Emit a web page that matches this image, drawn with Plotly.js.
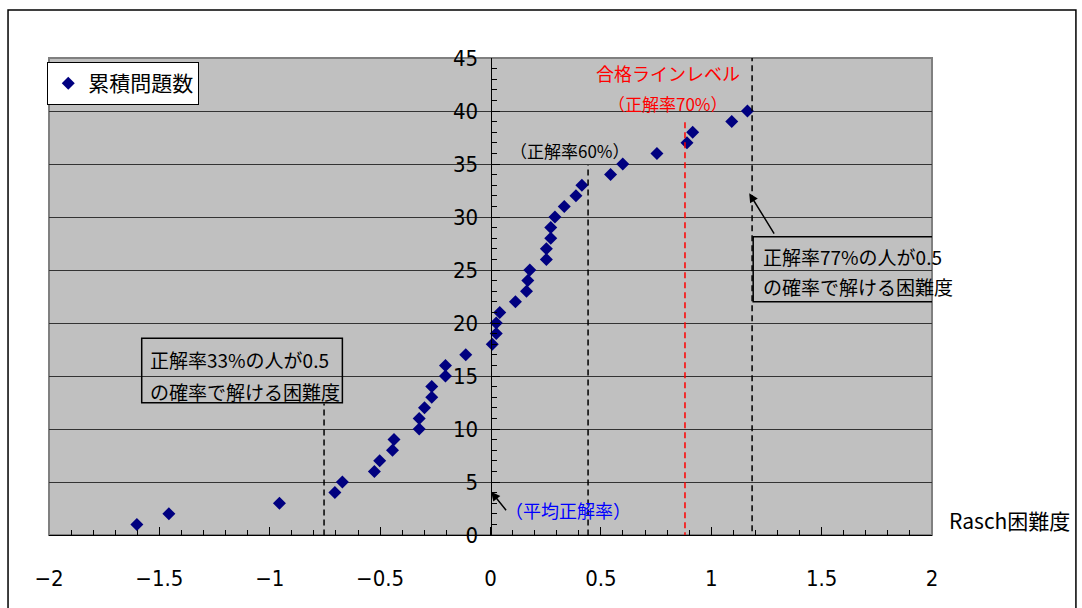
<!DOCTYPE html>
<html>
<head>
<meta charset="utf-8">
<script src="https://cdn.plot.ly/plotly-3.0.1.min.js"></script>
<style>html,body{margin:0;padding:0;background:#fff;}#chart{width:1082px;height:608px;}</style>
</head>
<body>
<div id="chart"></div>
<script>
// Rasch difficulty of each item (sorted) and cumulative item count
const seriesName = "累積問題数";
const raschDifficulty = [-1.602, -1.457, -0.956, -0.705, -0.671, -0.526, -0.502, -0.444, -0.437, -0.323,
  -0.323, -0.299, -0.266, -0.266, -0.204, -0.204, -0.112, 0.008, 0.026, 0.026,
  0.042, 0.113, 0.163, 0.169, 0.178, 0.253, 0.253, 0.273, 0.273, 0.292,
  0.334, 0.387, 0.414, 0.544, 0.599, 0.754, 0.890, 0.916, 1.093, 1.164];
const cumulativeCount = [1, 2, 3, 4, 5, 6, 7, 8, 9, 10,
  11, 12, 13, 14, 15, 16, 17, 18, 19, 20,
  21, 22, 23, 24, 25, 26, 27, 28, 29, 30,
  31, 32, 33, 34, 35, 36, 37, 38, 39, 40];
const xTickVals = [-2, -1.5, -1, -0.5, 0, 0.5, 1, 1.5, 2];
const yTickVals = [0, 5, 10, 15, 20, 25, 30, 35, 40, 45];
const xAxisLabel = "Rasch困難度";

// reference difficulty lines
const line33 = -0.754;   // 正解率33%
const line60 = 0.442;    // 正解率60%
const line70 = 0.881;    // 合格ライン 正解率70%
const line77 = 1.185;    // 正解率77%

const jp = '"Noto Sans CJK JP", "Noto Sans", sans-serif';
const num = '"Liberation Sans Narrow", "DejaVu Sans Condensed", "Liberation Sans", Arial, sans-serif';

const trace = {
  type: 'scatter', mode: 'markers', name: seriesName,
  x: raschDifficulty, y: cumulativeCount,
  marker: {symbol: 'diamond', size: 10, color: '#000080'},
  cliponaxis: false
};

const dashBlack = {color: '#000', width: 1.5, dash: '6px,4px'};
const shapes = [
  // plot frame
  {type: 'rect', xref: 'paper', yref: 'paper', x0: 0, x1: 1, y0: 0, y1: 1, line: {color: '#808080', width: 2}, layer: 'below'},
  // outer chart frame
  {type: 'rect', xref: 'paper', yref: 'paper', x0: -0.0464, x1: 1.163, y0: -0.3, y1: 1.1006, line: {color: '#000', width: 1.5}},
  {type: 'line', xref: 'x', yref: 'y', x0: line33, x1: line33, y0: -1, y1: 12.4, line: dashBlack},
  {type: 'line', xref: 'x', yref: 'y', x0: line60, x1: line60, y0: -1, y1: 34.9, line: dashBlack},
  {type: 'line', xref: 'x', yref: 'y', x0: line70, x1: line70, y0: -0.3, y1: 39.2, line: {color: '#FF0000', width: 1.5, dash: '6px,4px'}},
  {type: 'line', xref: 'x', yref: 'y', x0: line77, x1: line77, y0: -0.6, y1: 45, line: dashBlack},
  // annotation boxes
  {type: 'rect', xref: 'x', yref: 'y', x0: -1.580, x1: -0.671, y0: 12.48, y1: 18.56, line: {color: '#000', width: 1.5}},
  {type: 'rect', xref: 'x', yref: 'y', x0: 1.190, x1: 2.096, y0: 22.01, y1: 28.14, line: {color: '#000', width: 1.5}}
];

const ann = (text, x, y, opts) => Object.assign({
  text: text, x: x, y: y, xref: 'x', yref: 'y', showarrow: false,
  xanchor: 'center', yanchor: 'middle', font: {family: jp, size: 19, color: '#000'}
}, opts || {});

const annotations = [
  ann('合格ラインレベル', 0.804, 43.56, {font: {family: jp, size: 18, color: '#FF0000'}}),
  ann('（正解率70%）', 0.802, 40.73, {font: {family: jp, size: 17, color: '#FF0000'}}),
  ann('（正解率60%）', 0.360, 36.32, {font: {family: jp, size: 17, color: '#000'}}),
  ann('正解率33%の人が0.5', -1.550, 16.51, {xanchor: 'left'}),
  ann('の確率で解ける困難度', -1.550, 13.52, {xanchor: 'left'}),
  ann('正解率77%の人が0.5', 1.224, 26.25, {xanchor: 'left'}),
  ann('の確率で解ける困難度', 1.224, 23.42, {xanchor: 'left'}),
  ann('（平均正解率）', 0.351, 2.36, {font: {family: jp, size: 18, color: '#0000FF'}}),
  ann(xAxisLabel, 1.0166, 0.0314, {xref: 'paper', yref: 'paper', xanchor: 'left', font: {family: jp, size: 21, color: '#000'}}),
  // arrows
  {text: '', x: 1.172, y: 32.24, ax: 1.289, ay: 28.3, xref: 'x', yref: 'y', axref: 'x', ayref: 'y',
   showarrow: true, arrowhead: 2, arrowsize: 1.2, arrowwidth: 1.5, arrowcolor: '#000'},
  {text: '', x: 0.003, y: 4.08, ax: 0.076, ay: 2.2, xref: 'x', yref: 'y', axref: 'x', ayref: 'y',
   showarrow: true, arrowhead: 2, arrowsize: 1.2, arrowwidth: 1.5, arrowcolor: '#000'}
];

const layout = {
  width: 1082, height: 608,
  margin: {l: 49, r: 150, t: 58, b: 73},
  paper_bgcolor: '#FFFFFF', plot_bgcolor: '#C0C0C0',
  showlegend: true,
  legend: {x: -0.002, y: 0.9916, xanchor: 'left', yanchor: 'top', bgcolor: '#FFFFFF',
    bordercolor: '#000', borderwidth: 1, font: {family: jp, size: 21, color: '#000'}},
  xaxis: {
    range: [-2, 2], tickvals: xTickVals, showgrid: false, zeroline: false,
    showline: true, linecolor: '#000', linewidth: 1,
    ticks: 'inside', ticklen: 8, tickcolor: '#000', tickwidth: 1,
    minor: {dtick: 0.1, ticks: 'inside', ticklen: 5, tickcolor: '#000', showgrid: false},
    ticklabelstandoff: 24,
    tickfont: {family: num, size: 22, color: '#000'}
  },
  yaxis: {
    range: [0, 45], tickvals: yTickVals, anchor: 'free', position: 0.5,
    showgrid: true, gridcolor: '#333', gridwidth: 1, zeroline: false,
    showline: true, linecolor: '#000', linewidth: 1,
    ticks: 'inside', ticklen: 8, tickcolor: '#000',
    minor: {dtick: 1, ticks: 'inside', ticklen: 5, tickcolor: '#000', showgrid: false},
    ticklabelstandoff: 8,
    tickfont: {family: num, size: 22, color: '#000'}
  },
  shapes: shapes,
  annotations: annotations
};

Plotly.newPlot('chart', [trace], layout, {displayModeBar: false, staticPlot: true});
</script>
</body>
</html>
